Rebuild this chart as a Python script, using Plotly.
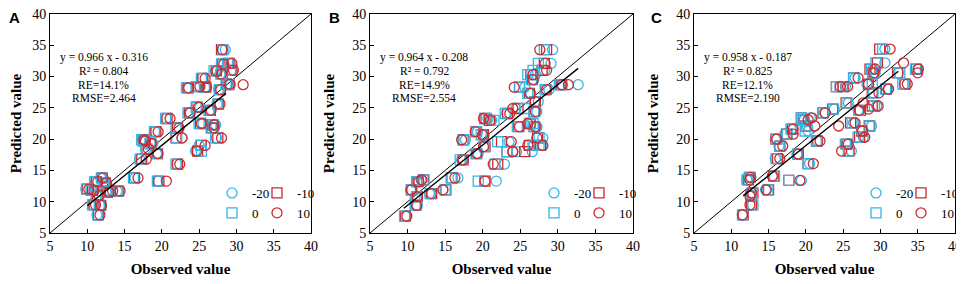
import plotly.graph_objects as go

# The page body has an 8px default margin; lay out in window pixels and convert.
OFF = 8
W, H = 964 - OFF, 284 - OFF
CYAN = "#35B6E9"
RED = "#CD2A2E"
SERIF = "Liberation Serif, Times New Roman, serif"

series_names = ["-20", "-10", "0", "10"]
panel_labels = ["A", "B", "C"]
tick_vals = [5, 10, 15, 20, 25, 30, 35, 40]

# ---------------- Panel A ----------------
pred_A = [34.3, 32.0, 32.1, 31.0, 30.9, 30.4, 29.7, 28.8, 28.7, 28.2, 28.4, 28.3, 27.9, 25.6,
          25.1, 24.6, 24.2, 23.3, 22.5, 22.3, 21.8, 21.2, 20.2, 20.2, 19.9, 19.3, 19.0, 18.1,
          17.7, 16.8, 16.0, 13.8, 13.3, 13.8, 13.2, 13.0, 12.0, 11.8, 11.7, 11.7, 11.0, 11.5,
          9.5, 9.4, 7.9, 19.7, 18.4, 21.8]
obs_A_m20 = [28.5, 28.0, 29.2, 29.3, 27.2, 27.8, 25.4, 28.8, 29.2, 23.4, 24.8, 25.8, 27.6, 27.4,
             25.1, 26.4, 23.6, 20.6, 25.5, 27.2, 22.0, 19.1, 22.7, 27.3, 17.4, 18.8, 25.0, 24.5,
             19.3, 17.0, 22.0, 16.4, 19.5, 11.8, 11.1, 12.3, 9.8, 10.6, 13.0, 14.0, 11.3, 12.6,
             10.8, 11.7, 11.3, 17.6, 17.8, 27.0]
obs_A_m10 = [28.0, 28.1, 29.0, 29.4, 27.3, 28.1, 25.5, 28.7, 29.0, 23.5, 24.9, 25.9, 27.8, 27.6,
             24.7, 26.5, 23.7, 20.7, 25.2, 26.8, 22.1, 19.2, 21.9, 27.5, 17.5, 18.5, 25.3, 24.8,
             19.4, 17.3, 22.1, 16.3, 19.6, 12.0, 11.2, 12.4, 10.0, 10.7, 13.1, 14.2, 11.4, 12.7,
             10.9, 11.8, 11.5, 17.7, 18.0, 26.7]
obs_A_0 = [28.2, 28.0, 28.8, 29.2, 27.0, 27.9, 25.3, 28.6, 28.9, 23.3, 24.6, 25.7, 27.7, 27.5,
           24.6, 26.3, 23.5, 20.5, 25.0, 26.9, 21.9, 19.0, 22.0, 27.2, 17.3, 18.4, 25.2, 25.3,
           19.3, 17.1, 21.9, 16.2, 19.4, 11.9, 11.0, 12.2, 9.9, 10.5, 12.9, 14.1, 11.2, 12.5,
           10.7, 11.6, 11.4, 17.5, 17.9, 26.6]
obs_A_10 = [28.1, 28.3, 29.4, 29.6, 27.4, 28.0, 25.8, 29.1, 30.9, 23.6, 25.1, 26.0, 27.9, 27.8,
            24.9, 26.6, 23.8, 21.1, 25.3, 27.0, 22.3, 19.5, 22.7, 28.0, 17.6, 18.6, 25.8, 24.7,
            19.5, 17.9, 22.4, 16.8, 20.6, 12.1, 11.4, 12.6, 10.2, 10.9, 13.4, 14.4, 11.6, 12.9,
            11.1, 11.9, 11.7, 17.8, 18.2, 27.0]

# ---------------- Panel B ----------------
pred_B = [34.3, 32.1, 31.0, 30.3, 29.5, 28.7, 28.7, 28.3, 27.9, 27.3, 26.0, 24.9, 24.4, 24.1,
          23.3, 23.0, 22.5, 22.0, 21.2, 20.7, 20.2, 19.9, 19.6, 19.0, 19.0, 18.8, 18.0, 17.7,
          16.7, 16.0, 13.8, 13.3, 13.2, 13.5, 11.9, 11.9, 11.3, 10.8, 9.4, 7.7, 22.0, 18.0]
obs_B_m20 = [29.3, 29.1, 28.2, 27.0, 26.8, 30.6, 32.7, 25.6, 28.8, 26.4, 27.4, 24.4, 27.2, 23.2,
             20.7, 21.2, 26.4, 27.2, 19.3, 20.2, 28.0, 17.7, 23.5, 27.9, 26.8, 20.3, 26.6, 19.4,
             17.2, 22.9, 16.7, 21.8, 11.2, 11.8, 10.4, 14.7, 12.9, 11.0, 11.3, 9.7, 27.2, 24.5]
obs_B_m10 = [28.5, 28.2, 27.9, 26.4, 26.6, 30.3, 30.5, 24.9, 28.4, 26.2, 27.0, 24.7, 26.9, 23.3,
             20.3, 20.9, 26.3, 24.8, 19.1, 20.1, 27.3, 17.4, 22.5, 26.2, 27.7, 20.3, 25.6, 19.2,
             17.4, 22.0, 15.9, 20.3, 11.4, 12.1, 10.5, 15.1, 13.2, 11.3, 11.1, 9.7, 26.9, 23.2]
obs_B_0 = [28.2, 27.4, 26.7, 26.0, 26.5, 30.2, 30.4, 24.9, 28.3, 26.0, 26.9, 25.6, 26.8, 23.0,
           20.5, 21.5, 26.7, 24.6, 19.2, 19.8, 27.5, 17.5, 22.0, 26.7, 27.5, 20.2, 23.2, 19.1,
           17.0, 21.6, 15.8, 19.4, 11.2, 12.2, 10.6, 15.0, 13.0, 11.2, 11.0, 9.6, 26.8, 23.2]
obs_B_10 = [27.6, 28.3, 28.5, 26.7, 26.7, 30.5, 31.4, 24.2, 28.5, 26.3, 27.0, 24.0, 27.0, 23.6,
            20.1, 21.0, 26.0, 24.9, 19.0, 20.0, 27.2, 17.2, 23.8, 26.0, 28.0, 20.1, 24.0, 19.2,
            17.4, 21.4, 16.3, 20.3, 11.5, 11.9, 10.5, 14.7, 13.2, 11.3, 11.2, 9.9, 27.0, 24.0]

# ---------------- Panel C ----------------
pred_C = [34.4, 32.2, 31.2, 31.2, 30.6, 30.6, 29.8, 28.8, 28.8, 28.4, 28.4, 28.0, 27.4, 25.8,
          25.3, 24.8, 24.2, 23.4, 23.1, 22.6, 22.1, 22.1, 21.3, 20.8, 20.3, 20.0, 19.7, 19.2,
          18.9, 18.1, 17.6, 16.9, 16.1, 14.1, 13.4, 13.5, 13.9, 11.9, 11.4, 10.9, 9.5, 7.9,
          21.6, 24.6]
obs_C_m20 = [30.6, 30.6, 29.0, 35.0, 29.3, 32.4, 26.6, 28.2, 33.2, 24.9, 25.3, 31.0, 29.0, 25.7,
             29.5, 23.8, 22.5, 20.6, 19.8, 26.4, 28.8, 20.2, 20.3, 17.2, 27.7, 15.9, 21.6, 25.5,
             16.4, 26.1, 18.8, 15.9, 20.5, 15.6, 19.4, 12.1, 12.3, 14.6, 12.8, 12.6, 12.8, 11.5,
             18.0, 27.0]
obs_C_m10 = [29.9, 29.6, 28.6, 34.8, 29.0, 32.3, 26.4, 28.4, 33.3, 24.1, 25.0, 30.8, 28.9, 25.4,
             28.9, 23.6, 22.3, 19.4, 19.7, 26.0, 28.5, 20.0, 27.5, 17.4, 27.2, 16.0, 21.5, 25.5,
             16.5, 25.8, 19.0, 16.2, 20.3, 15.7, 17.7, 12.3, 12.5, 15.0, 12.9, 12.6, 12.7, 11.6,
             18.2, 27.3]
obs_C_0 = [30.3, 29.4, 28.8, 34.7, 29.2, 32.6, 26.4, 28.9, 33.0, 24.1, 24.6, 30.7, 29.0, 25.5,
           29.2, 23.7, 22.3, 19.4, 19.6, 26.2, 28.6, 20.1, 19.9, 17.5, 27.0, 16.1, 21.4, 25.3,
           16.5, 25.7, 18.9, 16.0, 20.3, 15.8, 17.7, 12.1, 12.4, 14.9, 12.8, 12.6, 12.9, 11.5,
           18.0, 27.1]
obs_C_10 = [31.3, 33.1, 29.3, 35.1, 29.1, 35.0, 27.0, 28.4, 33.6, 24.6, 25.6, 31.1, 29.8, 27.7,
            29.7, 28.4, 22.6, 20.8, 20.3, 26.6, 24.4, 21.2, 27.6, 18.3, 27.9, 16.1, 21.9, 25.7,
            16.9, 24.8, 19.0, 16.5, 21.0, 15.5, 19.2, 12.5, 12.6, 14.7, 12.7, 12.5, 12.5, 11.5,
            18.3, 27.2]

# Regression statistics shown on each panel
slopes = [0.966, 0.964, 0.958]
intercepts = [-0.316, -0.208, -0.187]
r2_vals = ["0.804", "0.792", "0.825"]
re_vals = ["14.1%", "14.9%", "12.1%"]
rmse_vals = ["2.464", "2.554", "2.190"]
fit_x_ranges = [[10.0, 28.6], [9.5, 32.7], [11.6, 32.4]]

panels = [
    (pred_A, [obs_A_m20, obs_A_m10, obs_A_0, obs_A_10]),
    (pred_B, [obs_B_m20, obs_B_m10, obs_B_0, obs_B_10]),
    (pred_C, [obs_C_m20, obs_C_m10, obs_C_0, obs_C_10]),
]

# style per series: -20 cyan circle, -10 red square, 0 cyan square, 10 red circle
styles = [(CYAN, "circle-open"), (RED, "square-open"), (CYAN, "square-open"), (RED, "circle-open")]
legend_col = [0, 1, 0, 1]


def px_x(x):
    return (x - OFF) / W


def px_y(y):
    return 1 - (y - OFF) / H


# window-pixel layout
x_dom_px = [(50, 311), (370, 633), (694, 955)]
y_dom_px = (14, 233)
label_left_px = [8, 328, 650]

fig = go.Figure()
annotations = []
layout_axes = {}

for p, (pred, obs_list) in enumerate(panels):
    xa = "x" if p == 0 else f"x{p+1}"
    ya = "y" if p == 0 else f"y{p+1}"
    # 1:1 line
    fig.add_trace(go.Scatter(x=[5, 40], y=[5, 40], mode="lines",
                             line=dict(color="black", width=1), showlegend=False,
                             xaxis=xa, yaxis=ya, hoverinfo="skip"))
    for s in range(4):
        col, sym = styles[s]
        lg_idx = 2 * p + legend_col[s] + 1
        lg = "legend" if lg_idx == 1 else f"legend{lg_idx}"
        fig.add_trace(go.Scatter(
            x=obs_list[s], y=pred, mode="markers", name=series_names[s],
            marker=dict(symbol=sym, size=10, color=col, line=dict(color=col, width=1.3)),
            xaxis=xa, yaxis=ya, legend=lg, showlegend=True))
    # regression line
    fx = fit_x_ranges[p]
    fy = [slopes[p] * v + intercepts[p] for v in fx]
    fig.add_trace(go.Scatter(x=fx, y=fy, mode="lines",
                             line=dict(color="black", width=1.4), showlegend=False,
                             xaxis=xa, yaxis=ya, hoverinfo="skip"))

    x0, x1 = x_dom_px[p]
    dom_x = [px_x(x0), px_x(x1)]
    dom_y = [px_y(y_dom_px[1]), px_y(y_dom_px[0])]
    axis_common = dict(range=[5, 40], tickvals=tick_vals, ticks="inside", ticklen=4,
                       tickcolor="black", showline=True, mirror=True, linecolor="black",
                       linewidth=1, showgrid=False, zeroline=False, automargin=False,
                       ticklabeloverflow="allow",
                       tickfont=dict(family=SERIF, size=14, color="black"))
    xkey = "xaxis" if p == 0 else f"xaxis{p+1}"
    ykey = "yaxis" if p == 0 else f"yaxis{p+1}"
    layout_axes[xkey] = dict(domain=dom_x, anchor=ya, **axis_common,
                             title=dict(text="<b>Observed value</b>", standoff=10,
                                        font=dict(family=SERIF, size=15, color="black")))
    layout_axes[ykey] = dict(domain=dom_y, anchor=xa, **axis_common,
                             title=dict(text="<b>Predicted value</b>", standoff=13,
                                        font=dict(family=SERIF, size=15, color="black")))

    # statistics text
    stat_lines = [f"y = {slopes[p]:.3f} x - {abs(intercepts[p]):.3f}",
                  f"R² = {r2_vals[p]}", f"RE={re_vals[p]}", f"RMSE={rmse_vals[p]}"]
    stat_y = [33.1, 30.9, 28.7, 26.6]
    for t, yy in zip(stat_lines, stat_y):
        annotations.append(dict(x=12.2, y=yy, xref=xa, yref=ya, text=t, showarrow=False,
                                xanchor="center", yanchor="middle",
                                font=dict(family=SERIF, size=11.5, color="black")))
    # panel label
    annotations.append(dict(x=px_x(label_left_px[p]), y=1, xref="paper", yref="paper",
                            text=f"<b>{panel_labels[p]}</b>", showarrow=False,
                            xanchor="left", yanchor="top", borderpad=0,
                            font=dict(family="Liberation Sans", size=15, color="black")))

# legends: two columns per panel
legends = {}
for p in range(3):
    x1 = x_dom_px[p][1]
    for c, off in enumerate([99, 54]):
        idx = 2 * p + c + 1
        key = "legend" if idx == 1 else f"legend{idx}"
        legends[key] = dict(x=px_x(x1 - off), y=px_y(178), xanchor="left",
                            yanchor="top", bgcolor="rgba(0,0,0,0)", borderwidth=0,
                            itemwidth=30, tracegroupgap=0,
                            font=dict(family=SERIF, size=13, color="black"))

fig.update_layout(width=W, height=H, autosize=False,
                  margin=dict(l=0, r=0, t=0, b=0),
                  paper_bgcolor="white", plot_bgcolor="white",
                  annotations=annotations, **layout_axes, **legends)

fig.write_html("out.html")
